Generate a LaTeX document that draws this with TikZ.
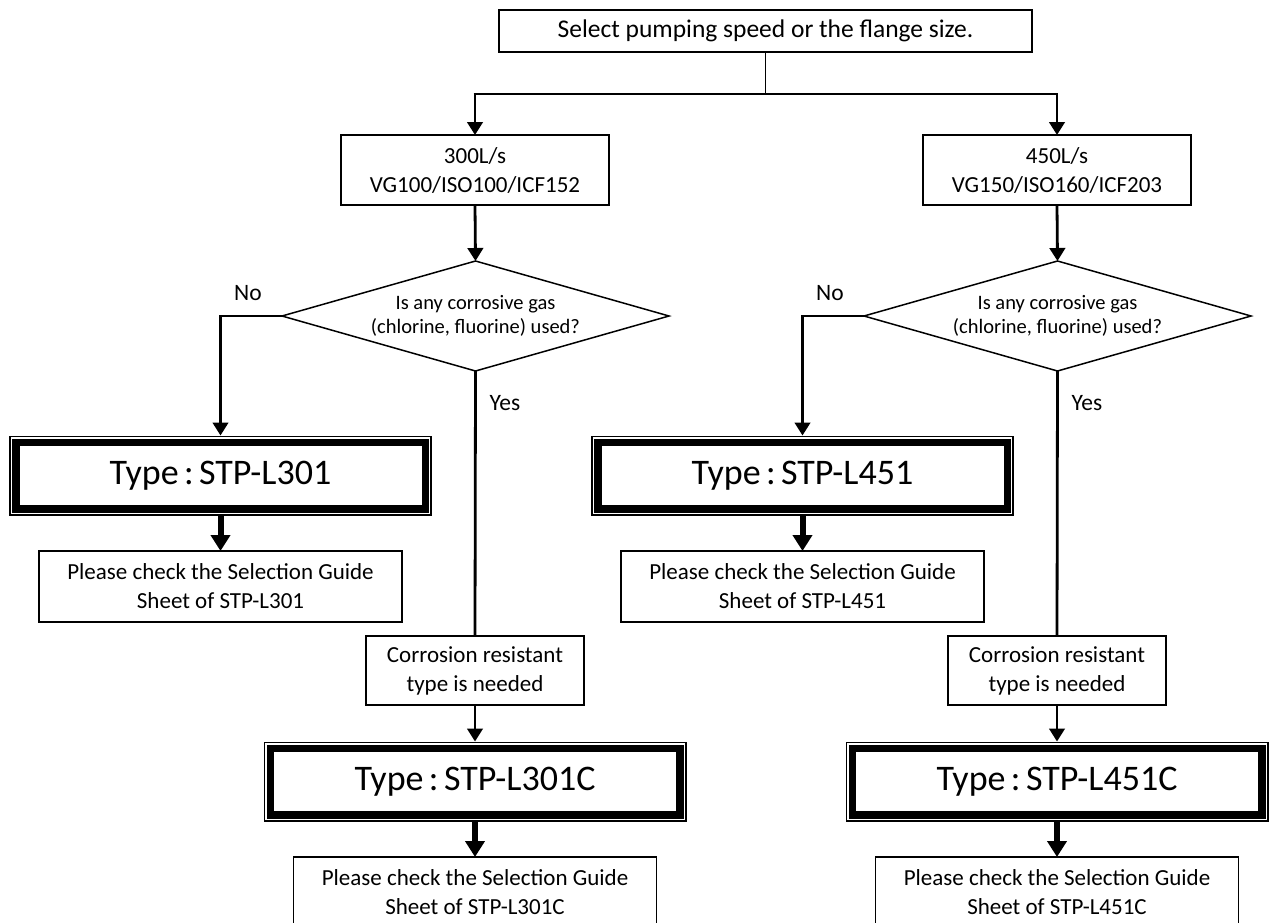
\documentclass[tikz,border=0pt]{standalone}
\usepackage{fontspec}
\setmainfont{Carlito}
\usetikzlibrary{arrows.meta,shapes.geometric}
\tikzset{
  lnthin/.style={line width=1.5pt},
  lnmed/.style={line width=2.8pt},
  arrmed/.style={line width=2.8pt,-{Triangle[length=13pt,width=15.5pt]}},
  arrthick/.style={line width=6pt,-{Triangle[length=16pt,width=19pt]}},
  box/.style={draw,line width=1.5pt,inner sep=0pt,outer sep=0pt,align=center,
    font=\fontsize{23}{29}\selectfont},
  topbox/.style={box,minimum width=533pt,minimum height=42pt,font=\fontsize{25.5}{29}\selectfont},
  sizebox/.style={box,minimum width=268pt,minimum height=70pt},
  checkbox/.style={box,minimum width=363pt,minimum height=71pt},
  corrbox/.style={box,minimum width=218pt,minimum height=69pt},
  dia/.style={diamond,draw,line width=1.5pt,inner sep=0pt,outer sep=0pt,
    minimum width=387pt,minimum height=110pt},
  diatext/.style={align=center,inner sep=0pt,font=\fontsize{20.5}{24.5}\selectfont},
  lbl/.style={inner sep=0pt,font=\fontsize{23.5}{28}\selectfont},
  typebox/.style={inner sep=0pt,outer sep=0pt,minimum width=423pt,minimum height=80pt,
    font=\fontsize{36}{40}\selectfont}
}
\newcommand\mktypebox[3]{%
  \node[typebox] (#1) at (#2) {#3};
  \draw[line width=7.5pt] ([xshift=6.75pt,yshift=-6.75pt]#1.north west) rectangle ([xshift=-6.75pt,yshift=6.75pt]#1.south east);
  \draw[line width=1.8pt] ([xshift=0.9pt,yshift=-0.9pt]#1.north west) rectangle ([xshift=-0.9pt,yshift=0.9pt]#1.south east);
}
\newcommand\typetxt[1]{Type\hspace{0.15em}:\hspace{0.15em}#1}
\begin{document}
\begin{tikzpicture}[x=1pt,y=-1pt]
\useasboundingbox (0,0) rectangle (1277,922);
\clip (0,0) rectangle (1277,922);

\node[topbox] (top) at (765.5,31) {Select pumping speed or the flange size.};
\node[sizebox] (s1) at (475,170) {300L/s\\VG100/ISO100/ICF152};
\node[sizebox] (s2) at (1057,170) {450L/s\\VG150/ISO160/ICF203};
\coordinate (split) at (765.5,94);
\coordinate (sl) at (475,94);
\coordinate (sr) at (1057,94);
\draw[lnthin] (top.south) -- (split);
\draw[lnthin] ([xshift=-1.4pt]sl) -- ([xshift=1.4pt]sr);
\draw[arrmed] (sl) -- (s1.north);
\draw[arrmed] (sr) -- (s2.north);

% left branch
\node[dia] (d1) at (475.5,316) {};
\node[diatext] at (d1.center) {Is any corrosive gas\\(chlorine, fluorine) used?};
\draw[arrmed] (s1.south) -- (d1.north);
\mktypebox{t1}{220.5,475.5}{\typetxt{STP-L301}}
\coordinate (n1) at (t1.north |- d1.west);
\draw[lnthin] (d1.west) -- ([xshift=-1.4pt]n1);
\draw[arrmed] (n1) -- (t1.north);
\node[lbl] (no1) at (248,293) {No};
\node[checkbox] (c1) at (220.5,586.5) {Please check the Selection Guide\\Sheet of STP-L301};
\draw[arrthick] (t1.south) -- (c1.north);
\node[corrbox] (r1) at (475,670.5) {Corrosion resistant\\type is needed};
\draw[lnmed] (d1.south) -- (r1.north);
\node[lbl] (yes1) at (505,403) {Yes};
\mktypebox{tc1}{475,781.5}{\typetxt{STP-L301C}}
\draw[arrmed] (r1.south) -- (tc1.north);
\node[checkbox] (cc1) at (475,892.5) {Please check the Selection Guide\\Sheet of STP-L301C};
\draw[arrthick] (tc1.south) -- (cc1.north);

% right branch
\node[dia] (d2) at (1057.5,316) {};
\node[diatext] at (d2.center) {Is any corrosive gas\\(chlorine, fluorine) used?};
\draw[arrmed] (s2.south) -- (d2.north);
\mktypebox{t2}{802.5,475.5}{\typetxt{STP-L451}}
\coordinate (n2) at (t2.north |- d2.west);
\draw[lnthin] (d2.west) -- ([xshift=-1.4pt]n2);
\draw[arrmed] (n2) -- (t2.north);
\node[lbl] (no2) at (830,293) {No};
\node[checkbox] (c2) at (802.5,586.5) {Please check the Selection Guide\\Sheet of STP-L451};
\draw[arrthick] (t2.south) -- (c2.north);
\node[corrbox] (r2) at (1057,670.5) {Corrosion resistant\\type is needed};
\draw[lnmed] (d2.south) -- (r2.north);
\node[lbl] (yes2) at (1087,403) {Yes};
\mktypebox{tc2}{1057,781.5}{\typetxt{STP-L451C}}
\draw[arrmed] (r2.south) -- (tc2.north);
\node[checkbox] (cc2) at (1057,892.5) {Please check the Selection Guide\\Sheet of STP-L451C};
\draw[arrthick] (tc2.south) -- (cc2.north);
\end{tikzpicture}
\end{document}
